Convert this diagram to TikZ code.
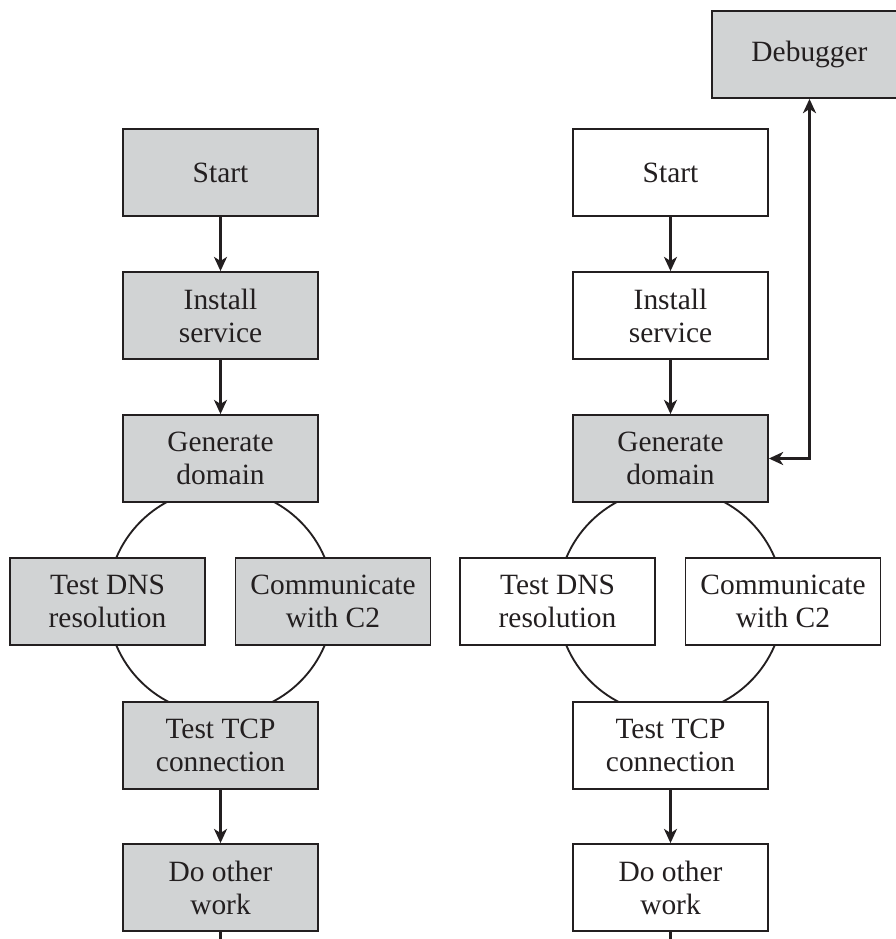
\documentclass[tikz,border=0pt]{standalone}
\usepackage{fontspec}
\setmainfont{Liberation Serif}
\usetikzlibrary{arrows.meta,backgrounds}
\definecolor{boxgray}{RGB}{209,211,212}
\definecolor{ink}{RGB}{35,31,32}

\begin{document}
\begin{tikzpicture}[x=0.35pt,y=-0.35pt,
  >={Stealth[length=5pt,width=4.6pt,inset=1.5pt]},
  box/.style={draw=ink,line width=0.65pt,minimum width=68.25pt,minimum height=30.45pt,
    inner sep=0pt,align=center,text=ink,font=\fontsize{10.3}{11.6}\selectfont},
  shaded/.style={box,fill=boxgray},
  plain/.style={box,fill=white},
  flow/.style={draw=ink,line width=0.75pt}]

  \useasboundingbox (0,0) rectangle (896,939);
  \clip (0,0) rectangle (896,939);

  % left run: everything under the debugger's eye
  \node[shaded] (start) at (220.5,172.5) {Start};
  \node[shaded] (install) at (220.5,315.5) {Install\\service};
  \node[shaded] (gen) at (220.5,458.5) {Generate\\domain};
  \node[shaded] (dns) at (107.5,601.5) {Test DNS\\resolution};
  \node[shaded] (comm) at (333,601.5) {Communicate\\with C2};
  \node[shaded] (tcp) at (220.5,745.5) {Test TCP\\connection};
  \node[shaded] (work) at (220.5,887.5) {Do other\\work};
  \coordinate (workend) at (220.5,939);

  \draw[flow,->] (start) -- (install);
  \draw[flow,->] (install) -- (gen);
  \draw[flow,->] (tcp) -- (work);
  \draw[flow] (work) -- (workend);

  % right run: only the domain generator is traced
  \node[shaded] (dbg) at (809.5,54.5) {Debugger};
  \node[plain] (start2) at (670.5,172.5) {Start};
  \node[plain] (install2) at (670.5,315.5) {Install\\service};
  \node[shaded] (gen2) at (670.5,458.5) {Generate\\domain};
  \node[plain] (dns2) at (557.5,601.5) {Test DNS\\resolution};
  \node[plain] (comm2) at (783,601.5) {Communicate\\with C2};
  \node[plain] (tcp2) at (670.5,745.5) {Test TCP\\connection};
  \node[plain] (work2) at (670.5,887.5) {Do other\\work};
  \coordinate (workend2) at (670.5,939);

  \draw[flow,->] (start2) -- (install2);
  \draw[flow,->] (install2) -- (gen2);
  \draw[flow,->] (tcp2) -- (work2);
  \draw[flow] (work2) -- (workend2);
  \draw[flow,<->] (dbg.south) |- (gen2.east);

  \begin{scope}[on background layer]
    \draw[ink,line width=0.65pt] (gen |- dns) circle[radius=39.55pt];
    \draw[ink,line width=0.65pt] (gen2 |- dns2) circle[radius=39.55pt];
  \end{scope}

\end{tikzpicture}
\end{document}
